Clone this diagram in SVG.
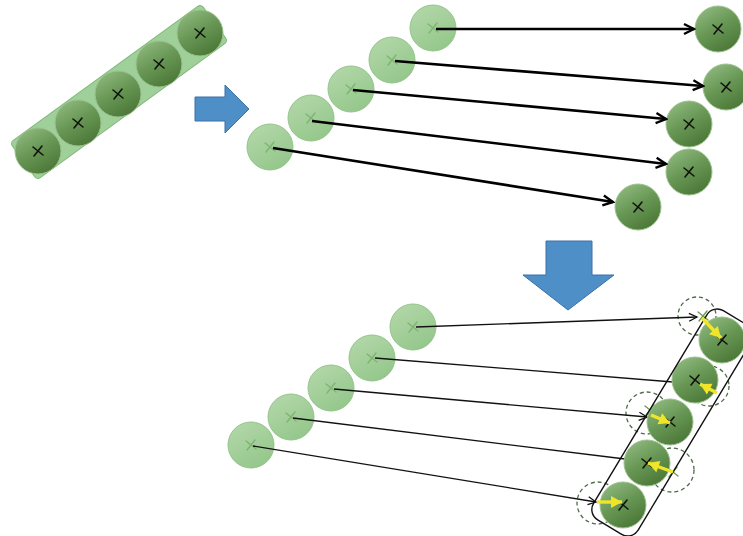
<svg xmlns="http://www.w3.org/2000/svg" width="743" height="536" viewBox="0 0 743 536">
  <style>
    .dark { fill: url(#gDark); stroke: #9cc18e; stroke-width: 1; }
    .light { fill: url(#gLight); stroke: #93c48a; stroke-width: 1; }
    .xk { fill: none; stroke: #111; stroke-width: 1.6; stroke-linecap: round; }
    .xl { fill: none; stroke: #7fb472; stroke-width: 1.4; stroke-linecap: round; }
    .xg { fill: none; stroke: #6d9a58; stroke-width: 1.4; stroke-linecap: round; }
    .thick { fill: none; stroke: #000; stroke-width: 2.6; marker-end: url(#openBig); }
    .thin { fill: none; stroke: #111; stroke-width: 1.3; }
    .thinArrow { fill: none; stroke: #111; stroke-width: 1.3; marker-end: url(#openSmall); }
    .dash { fill: none; stroke: #4d6b49; stroke-width: 1.3; stroke-dasharray: 4 3; }
    .yel { fill: none; stroke: #f1e52a; stroke-width: 3.4; marker-end: url(#yHead); }
    .blue { fill: #4f8fc8; stroke: #3d70a6; stroke-width: 1; }
  </style>
  <defs>
    <linearGradient id="gDark" x1="0.2" y1="0" x2="0.8" y2="1">
      <stop offset="0" stop-color="#8fba7f"/>
      <stop offset="0.45" stop-color="#699856"/>
      <stop offset="1" stop-color="#487434"/>
    </linearGradient>
    <linearGradient id="gLight" x1="0.2" y1="0" x2="0.8" y2="1">
      <stop offset="0" stop-color="#b3d7a9"/>
      <stop offset="1" stop-color="#92c689"/>
    </linearGradient>
    <path id="xm" d="M-5,-4 L5,4 M-4,5 L4,-5"/>
    <marker id="openBig" viewBox="-12 -7 14 14" markerWidth="14" markerHeight="14" refX="0" refY="0" orient="auto" markerUnits="userSpaceOnUse">
      <path d="M-10,-5 L0,0 L-10,5" fill="none" stroke="#000" stroke-width="2.4" stroke-linejoin="miter"/>
    </marker>
    <marker id="openSmall" viewBox="-10 -6 12 12" markerWidth="12" markerHeight="12" refX="0" refY="0" orient="auto" markerUnits="userSpaceOnUse">
      <path d="M-8,-4 L0,0 L-8,4" fill="none" stroke="#111" stroke-width="1.3"/>
    </marker>
    <marker id="yHead" viewBox="-12 -7 13 14" markerWidth="13" markerHeight="14" refX="0" refY="0" orient="auto" markerUnits="userSpaceOnUse">
      <path d="M-11,-6 L0,0 L-11,6 Z" fill="#f1e52a"/>
    </marker>
  </defs>

  <!-- initial chain: band with five balls -->
  <g id="chain-start">
    <rect x="-118" y="-23" width="236" height="46" rx="4" transform="translate(119 92) rotate(-36)" fill="#8ec887" fill-opacity="0.85" stroke="#7cb774" stroke-width="1"/>
  </g>
  <g id="s1"><circle class="dark" cx="38" cy="151" r="23"/><use href="#xm" class="xk" x="38" y="151"/></g>
  <g id="s2"><circle class="dark" cx="78" cy="123" r="23"/><use href="#xm" class="xk" x="78" y="123"/></g>
  <g id="s3"><circle class="dark" cx="118" cy="94" r="23"/><use href="#xm" class="xk" x="118" y="94"/></g>
  <g id="s4"><circle class="dark" cx="159" cy="64" r="23"/><use href="#xm" class="xk" x="159" y="64"/></g>
  <g id="s5"><circle class="dark" cx="200" cy="33" r="23"/><use href="#xm" class="xk" x="200" y="33"/></g>

  <!-- step arrows -->
  <g id="step-right"><path class="blue" d="M195,97 H225 V85 L249,109 L225,133 V121 H195 Z"/></g>
  <g id="step-down"><path class="blue" d="M546,241 H592 V275 H614 L568,310 L523,275 H546 Z"/></g>

  <!-- upper stage: previous positions -->
  <g id="a1"><circle class="light" cx="433" cy="28" r="23"/><use href="#xm" class="xl" x="433" y="28"/></g>
  <g id="a2"><circle class="light" cx="392" cy="60" r="23"/><use href="#xm" class="xl" x="392" y="60"/></g>
  <g id="a3"><circle class="light" cx="351" cy="89" r="23"/><use href="#xm" class="xl" x="351" y="89"/></g>
  <g id="a4"><circle class="light" cx="311" cy="118" r="23"/><use href="#xm" class="xl" x="311" y="118"/></g>
  <g id="a5"><circle class="light" cx="270" cy="147" r="23"/><use href="#xm" class="xl" x="270" y="147"/></g>

  <!-- upper stage: moved positions -->
  <g id="b1"><circle class="dark" cx="718" cy="29" r="23"/><use href="#xm" class="xk" x="718" y="29"/></g>
  <g id="b2"><circle class="dark" cx="726" cy="87" r="23"/><use href="#xm" class="xk" x="726" y="87"/></g>
  <g id="b3"><circle class="dark" cx="689" cy="124" r="23"/><use href="#xm" class="xk" x="689" y="124"/></g>
  <g id="b4"><circle class="dark" cx="689" cy="172" r="23"/><use href="#xm" class="xk" x="689" y="172"/></g>
  <g id="b5"><circle class="dark" cx="638" cy="207" r="23"/><use href="#xm" class="xk" x="638" y="207"/></g>

  <g id="upper-connectors">
    <line class="thick" x1="436" y1="29" x2="694" y2="29"/>
    <line class="thick" x1="395" y1="61" x2="703" y2="86"/>
    <line class="thick" x1="353" y1="90" x2="666" y2="119"/>
    <line class="thick" x1="312" y1="121" x2="666" y2="164"/>
    <line class="thick" x1="273" y1="148" x2="613" y2="202"/>
  </g>

  <!-- lower stage: previous positions -->
  <g id="c1"><circle class="light" cx="413" cy="327" r="23"/><use href="#xm" class="xl" x="413" y="327"/></g>
  <g id="c2"><circle class="light" cx="372" cy="358" r="23"/><use href="#xm" class="xl" x="372" y="358"/></g>
  <g id="c3"><circle class="light" cx="331" cy="388" r="23"/><use href="#xm" class="xl" x="331" y="388"/></g>
  <g id="c4"><circle class="light" cx="291" cy="417" r="23"/><use href="#xm" class="xl" x="291" y="417"/></g>
  <g id="c5"><circle class="light" cx="251" cy="445" r="23"/><use href="#xm" class="xl" x="251" y="445"/></g>

  <!-- lower stage: free targets (dashed) -->
  <g id="t1"><circle class="dash" cx="697" cy="316" r="19"/><use href="#xm" class="xg" x="703" y="316"/></g>
  <g id="t2"><circle class="dash" cx="709" cy="386" r="20"/></g>
  <g id="t3"><circle class="dash" cx="647" cy="413" r="21"/><use href="#xm" class="xg" x="650" y="410"/></g>
  <g id="t4"><circle class="dash" cx="672" cy="470" r="22"/><use href="#xm" class="xg" x="673" y="472"/></g>
  <g id="t5"><circle class="dash" cx="598" cy="503" r="21"/></g>

  <g id="lower-connectors">
    <line class="thinArrow" x1="416" y1="327" x2="697" y2="317"/>
    <line class="thin" x1="375" y1="358" x2="673" y2="382"/>
    <line class="thinArrow" x1="334" y1="389" x2="647" y2="417"/>
    <line class="thin" x1="293" y1="418" x2="625" y2="459"/>
    <line class="thinArrow" x1="253" y1="446" x2="596" y2="502"/>
  </g>

  <!-- lower stage: constrained positions -->
  <g id="d1"><circle class="dark" cx="722" cy="340" r="23"/><use href="#xm" class="xk" x="722" y="340"/></g>
  <g id="d2"><circle class="dark" cx="695" cy="380" r="23"/><use href="#xm" class="xk" x="695" y="380"/></g>
  <g id="d3"><circle class="dark" cx="670" cy="422" r="23"/><use href="#xm" class="xk" x="670" y="422"/></g>
  <g id="d4"><circle class="dark" cx="647" cy="463" r="23"/><use href="#xm" class="xk" x="647" y="463"/></g>
  <g id="d5"><circle class="dark" cx="623" cy="505" r="23"/><use href="#xm" class="xk" x="623" y="505"/></g>

  <g id="chain-end">
    <rect x="-122" y="-26" width="244" height="52" rx="12" transform="translate(672.5 422.5) rotate(-59)" fill="none" stroke="#111" stroke-width="1.4"/>
  </g>

  <g id="corrections">
    <line class="yel" x1="702" y1="318" x2="721" y2="338"/>
    <line class="yel" x1="717" y1="393" x2="700" y2="384"/>
    <line class="yel" x1="651" y1="415" x2="670" y2="423"/>
    <line class="yel" x1="673" y1="472" x2="648" y2="463"/>
    <line class="yel" x1="597" y1="502" x2="622" y2="502"/>
  </g>
</svg>
